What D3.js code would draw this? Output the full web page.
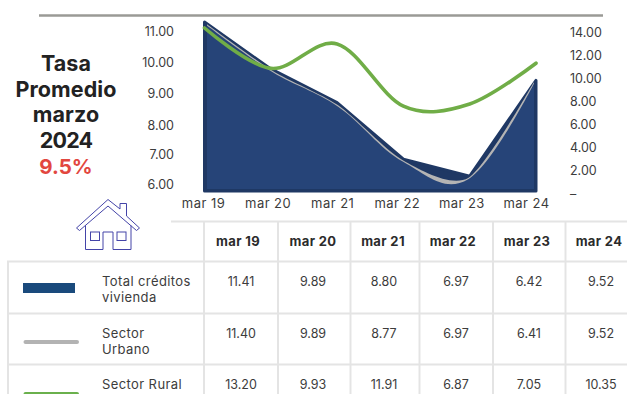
<!DOCTYPE html>
<html>
<head>
<meta charset="utf-8">
<script src="https://cdn.jsdelivr.net/npm/d3@7/dist/d3.min.js"></script>
<style>
  html, body { margin: 0; padding: 0; background: #fff; }
  svg { display: block; font-family: Inter, "Open Sans", sans-serif; }
</style>
</head>
<body>
<svg id="chart" width="627" height="394"></svg>
<script>
const categories = ["mar 19", "mar 20", "mar 21", "mar 22", "mar 23", "mar 24"];
const totalCreditos = [11.41, 9.89, 8.80, 6.97, 6.42, 9.52];
const sectorUrbano = [11.40, 9.89, 8.77, 6.97, 6.41, 9.52];
const sectorRural = [13.20, 9.93, 11.91, 6.87, 7.05, 10.35];
const leftTicks = [6, 7, 8, 9, 10, 11];
const rightTicks = [0, 2, 4, 6, 8, 10, 12, 14];
const titleLines = ["Tasa", "Promedio", "marzo", "2024"];
const titleValue = "9.5%";
const legendRows = [
  { lines: ["Total créditos", "vivienda"], values: totalCreditos },
  { lines: ["Sector", "Urbano"], values: sectorUrbano },
  { lines: ["Sector Rural"], values: sectorRural }
];

const ink = "#3c3c3c";
const gridColor = "#e4e4e4";
const svg = d3.select("#chart");

// Scales for the marks
const x = d3.scalePoint().domain(categories).range([204.5, 536]);
const yLeft = d3.scaleLinear().domain([5.94, 11.41]).range([191, 22]);
const yRight = d3.scaleLinear().domain([0, 13.2]).range([191, 28]);

// Inner panel of the area: the lighter fill sits inside the dark outline
const xInner = d3.scalePoint().domain(categories).range([207, 534]);
const yInner = d3.scaleLinear().domain([6.41, 11.40]).range([178.5, 25]);
const innerBase = 189;

// Scales for the printed axis labels
const xLabels = d3.scalePoint().domain(categories).range([203, 526]);
const yLeftLabels = d3.scaleLinear().domain(leftTicks).range([184, 154, 125, 93, 62, 31]);
const yRightLabels = d3.scaleLinear().domain([0, 14]).range([193, 32]);

// Header rule
svg.append("line").attr("x1", 39).attr("x2", 603).attr("y1", 15.5).attr("y2", 15.5)
  .attr("stroke", "#9a9a96").attr("stroke-width", 2.5);

// Title block
const title = svg.append("g").attr("text-anchor", "middle");
titleLines.forEach((t, i) => {
  title.append("text").attr("x", 66).attr("y", 71 + i * 25.6)
    .attr("font-size", 21.5).attr("font-weight", 700).attr("fill", "#222")
    .attr("letter-spacing", /\d/.test(t) ? -0.8 : 0.1).text(t);
});
title.append("text").attr("x", 66).attr("y", 174)
  .attr("font-size", 20.5).attr("font-weight", 700).attr("fill", "#e2473f").text(titleValue);

// Dark outline area for the total series
const area = d3.area().x((d, i) => x(categories[i])).y0(yLeft.range()[0]).y1(d => yLeft(d));
svg.append("path").datum(totalCreditos).attr("d", area)
  .attr("fill", "#1f3864").attr("stroke", "#1f3864").attr("stroke-width", 3)
  .attr("stroke-linejoin", "round");

// Urban series: a grey band that widens through the dips, over the lighter fill
const band = (tension, shift) => d3.area()
  .x((d, i) => xInner(categories[i])).y0(innerBase).y1(d => yInner(d) + shift)
  .curve(d3.curveCardinal.tension(tension));
svg.append("path").datum(sectorUrbano).attr("d", band(0.22, -0.8)).attr("fill", "#b4b4b4");
svg.append("path").datum(sectorUrbano).attr("d", band(-0.1, 0.6)).attr("fill", "#264478");

// Rural series
const smooth = scale => d3.line()
  .x((d, i) => x(categories[i])).y(d => scale(d))
  .curve(d3.curveCardinal.tension(0));
svg.append("path").datum(sectorRural).attr("d", smooth(yRight))
  .attr("fill", "none").attr("stroke", "#70ad47").attr("stroke-width", 3.6).attr("stroke-linecap", "round");

// Axes
const styleAxis = size => g => {
  g.select(".domain").remove();
  g.selectAll("text").attr("fill", ink).attr("font-size", size).attr("font-family", "Inter, sans-serif");
};
svg.append("g").attr("transform", "translate(174,0)")
  .call(d3.axisLeft(yLeftLabels).tickValues(leftTicks).tickSize(0).tickPadding(0).tickFormat(d3.format(".2f")))
  .call(styleAxis(12.5));
svg.append("g").attr("transform", "translate(570,0)")
  .call(d3.axisRight(yRightLabels).tickValues(rightTicks).tickSize(0).tickPadding(0)
    .tickFormat(d => d === 0 ? "–" : d3.format(".2f")(d)))
  .call(styleAxis(12.5));
svg.append("g").attr("transform", "translate(0,199)")
  .call(d3.axisBottom(xLabels).tickSize(0).tickPadding(0))
  .call(styleAxis(13))
  .selectAll("text").attr("letter-spacing", 0.45);

// House icon
const house = svg.append("g").attr("fill", "none").attr("stroke", "#4444a8").attr("stroke-width", 1);
house.append("path").attr("d", "M76.5 228 L108 199.5 L120 209 L120 203.5 L126.5 203.5 L126.5 216 L139.5 228 L136.5 230.5 L108 206 L79.5 230.5 Z");
house.append("path").attr("d", "M85.5 225.5 L85.5 249.5 L103 249.5 L103 232 L113 232 L113 249.5 L131 249.5 L131 225.5");
house.append("rect").attr("x", 90.5).attr("y", 232).attr("width", 9).attr("height", 8.5);
house.append("rect").attr("x", 117).attr("y", 232).attr("width", 9).attr("height", 8.5);

// Table grid
const colEdges = [204, 278, 350.5, 419.5, 493, 565.5];
const colCentres = [241, 313, 384, 456, 529, 601];
const headCentres = [238, 313, 383, 453, 527, 599];
const rowEdges = [261.5, 313.5, 364.5];
const rowTextY = [285.5, 337.5, 388.5];
const grid = svg.append("g").attr("stroke", gridColor).attr("stroke-width", 2);
grid.append("line").attr("x1", 171).attr("x2", 627).attr("y1", 221.5).attr("y2", 221.5);
rowEdges.forEach(y => grid.append("line").attr("x1", 7).attr("x2", 627).attr("y1", y).attr("y2", y));
colEdges.forEach(e => grid.append("line").attr("x1", e).attr("x2", e).attr("y1", 221).attr("y2", 394));
grid.append("line").attr("x1", 8).attr("x2", 8).attr("y1", 261).attr("y2", 394);

// Table text
categories.forEach((c, i) => {
  svg.append("text").attr("x", headCentres[i]).attr("y", 245.5).attr("text-anchor", "middle")
    .attr("font-size", 13).attr("font-weight", 700).attr("letter-spacing", 0.35)
    .attr("fill", "#2b2b2b").text(c);
});
legendRows.forEach((row, r) => {
  row.lines.forEach((t, j) => {
    svg.append("text").attr("x", 102).attr("y", rowTextY[r] + j * 16.5)
      .attr("font-size", 13).attr("letter-spacing", 0.4).attr("fill", ink).text(t);
  });
  row.values.forEach((v, i) => {
    svg.append("text").attr("x", colCentres[i]).attr("y", rowTextY[r]).attr("text-anchor", "middle")
      .attr("font-size", 12.5).attr("fill", ink).text(v.toFixed(2));
  });
});

// Legend swatches
svg.append("rect").attr("x", 23).attr("y", 283).attr("width", 52).attr("height", 10).attr("fill", "#1a4a7c");
svg.append("line").attr("x1", 25.5).attr("x2", 77).attr("y1", 342).attr("y2", 342)
  .attr("stroke", "#b3b3b3").attr("stroke-width", 4).attr("stroke-linecap", "round");
svg.append("line").attr("x1", 25.5).attr("x2", 77).attr("y1", 394).attr("y2", 394)
  .attr("stroke", "#6ab04c").attr("stroke-width", 4).attr("stroke-linecap", "round");
</script>
</body>
</html>
